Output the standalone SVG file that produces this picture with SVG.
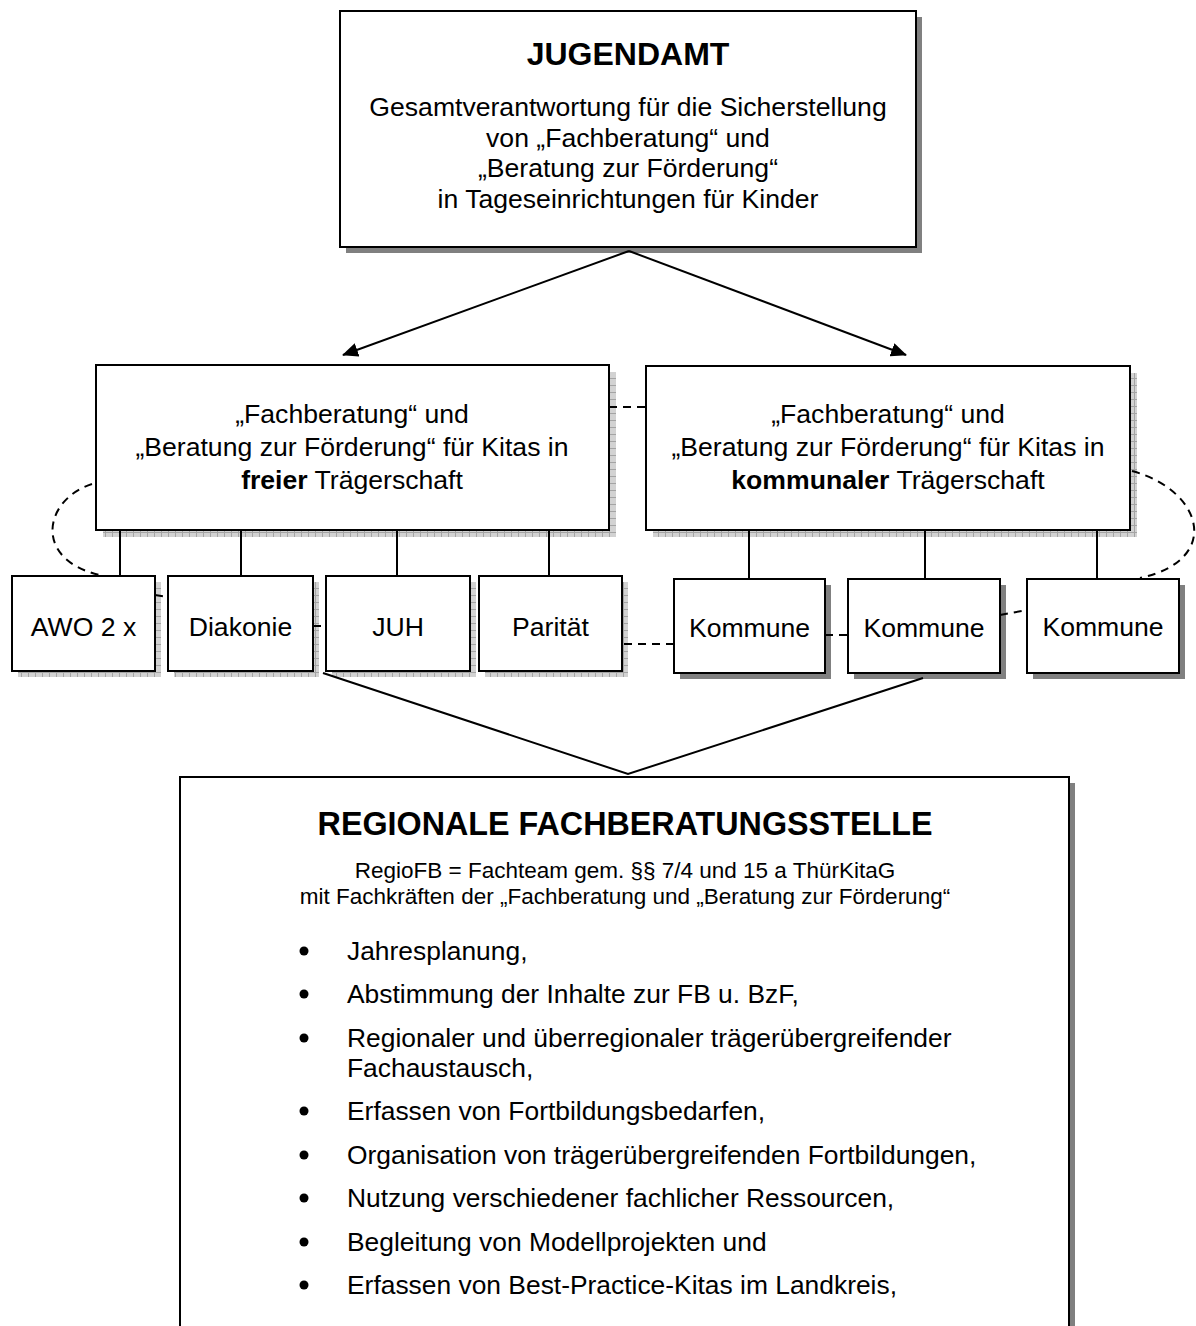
<svg xmlns="http://www.w3.org/2000/svg" width="1196" height="1326" viewBox="0 0 1196 1326">
<style>
.box{fill:#fff;stroke:#000;stroke-width:2}
.sh{fill:#808080}
.chk{fill:url(#chk)}
.t{font-family:"Liberation Sans",Arial,sans-serif;fill:#000;text-anchor:middle}
.tl{font-family:"Liberation Sans",Arial,sans-serif;fill:#000;font-size:26.4px}
.b{font-weight:bold}
.ln{fill:none;stroke:#000;stroke-width:2}
.ds{fill:none;stroke:#000;stroke-width:2;stroke-dasharray:8 6}
</style>
<defs>
<pattern id="chk" width="7" height="7" patternUnits="userSpaceOnUse">
<rect width="7" height="7" fill="#d2d2d2"/>
<path d="M0 0.5H7M0.5 0V7" stroke="#a4a4a4" stroke-width="1"/>
</pattern>
<marker id="ah" markerWidth="16" markerHeight="14" refX="15" refY="7" orient="auto" markerUnits="userSpaceOnUse">
<path d="M0 0L16 7L0 14Z" fill="#000"/>
</marker>
</defs>

<g id="jugendamt">
<rect class="sh" x="346" y="17" width="576" height="236"/>
<rect class="box" x="340" y="11" width="576" height="236"/>
<text class="t b" x="628" y="65" font-size="32">JUGENDAMT</text>
<text class="t" x="628" y="116" font-size="26.6">Gesamtverantwortung für die Sicherstellung</text>
<text class="t" x="628" y="147" font-size="26.6">von „Fachberatung“ und</text>
<text class="t" x="628" y="177" font-size="26.6">„Beratung zur Förderung“</text>
<text class="t" x="628" y="208" font-size="26.6">in Tageseinrichtungen für Kinder</text>
</g>

<g id="freie">
<rect class="chk" x="103" y="372" width="513" height="165"/>
<rect class="box" x="96" y="365" width="513" height="165"/>
<text class="t" x="352" y="423" font-size="26.6">„Fachberatung“ und</text>
<text class="t" x="352" y="456" font-size="26.6">„Beratung zur Förderung“ für Kitas in</text>
<text class="t" x="352" y="489" font-size="26.6"><tspan class="b">freier</tspan> Trägerschaft</text>
</g>

<g id="kommunal">
<rect class="chk" x="653" y="373" width="484" height="164"/>
<rect class="box" x="646" y="366" width="484" height="164"/>
<text class="t" x="888" y="423" font-size="26.6">„Fachberatung“ und</text>
<text class="t" x="888" y="456" font-size="26.6">„Beratung zur Förderung“ für Kitas in</text>
<text class="t" x="888" y="489" font-size="26.6"><tspan class="b">kommunaler</tspan> Trägerschaft</text>
</g>

<g id="awo">
<rect class="chk" x="18" y="582" width="143" height="95"/>
<rect class="box" x="12" y="576" width="143" height="95"/>
<text class="t" x="83.5" y="636" font-size="26.6">AWO 2 x</text>
</g>
<g id="diakonie">
<rect class="chk" x="174" y="582" width="145" height="95"/>
<rect class="box" x="168" y="576" width="145" height="95"/>
<text class="t" x="240.5" y="636" font-size="26.6">Diakonie</text>
</g>
<g id="juh">
<rect class="chk" x="332" y="582" width="144" height="95"/>
<rect class="box" x="326" y="576" width="144" height="95"/>
<text class="t" x="398" y="636" font-size="26.6">JUH</text>
</g>
<g id="paritaet">
<rect class="chk" x="485" y="582" width="143" height="95"/>
<rect class="box" x="479" y="576" width="143" height="95"/>
<text class="t" x="550.5" y="636" font-size="26.6">Parität</text>
</g>
<g id="kommune1">
<rect class="sh" x="680" y="585" width="151" height="94"/>
<rect class="box" x="674" y="579" width="151" height="94"/>
<text class="t" x="749.5" y="637" font-size="26.6">Kommune</text>
</g>
<g id="kommune2">
<rect class="sh" x="854" y="585" width="152" height="94"/>
<rect class="box" x="848" y="579" width="152" height="94"/>
<text class="t" x="924" y="637" font-size="26.6">Kommune</text>
</g>
<g id="kommune3">
<rect class="sh" x="1033" y="585" width="152" height="94"/>
<rect class="box" x="1027" y="579" width="152" height="94"/>
<text class="t" x="1103" y="636" font-size="26.6">Kommune</text>
</g>

<g id="regionale">
<rect class="sh" x="186" y="783" width="889" height="600"/>
<rect class="box" x="180" y="777" width="889" height="600"/>
<text class="t b" x="625" y="835" font-size="32.3">REGIONALE FACHBERATUNGSSTELLE</text>
<text class="t" x="625" y="878" font-size="22.5">RegioFB = Fachteam gem. §§ 7/4 und 15 a ThürKitaG</text>
<text class="t" x="625" y="904" font-size="22.5">mit Fachkräften der „Fachberatung und „Beratung zur Förderung“</text>
<g fill="#000">
<circle cx="304" cy="951" r="4.5"/>
<circle cx="304" cy="994" r="4.5"/>
<circle cx="304" cy="1038" r="4.5"/>
<circle cx="304" cy="1111" r="4.5"/>
<circle cx="304" cy="1155" r="4.5"/>
<circle cx="304" cy="1198" r="4.5"/>
<circle cx="304" cy="1242" r="4.5"/>
<circle cx="304" cy="1285" r="4.5"/>
</g>
<text class="tl" x="347" y="959.5">Jahresplanung,</text>
<text class="tl" x="347" y="1003">Abstimmung der Inhalte zur FB u. BzF,</text>
<text class="tl" x="347" y="1046.5">Regionaler und überregionaler trägerübergreifender</text>
<text class="tl" x="347" y="1076.5">Fachaustausch,</text>
<text class="tl" x="347" y="1120">Erfassen von Fortbildungsbedarfen,</text>
<text class="tl" x="347" y="1163.5">Organisation von trägerübergreifenden Fortbildungen,</text>
<text class="tl" x="347" y="1207">Nutzung verschiedener fachlicher Ressourcen,</text>
<text class="tl" x="347" y="1250.5">Begleitung von Modellprojekten und</text>
<text class="tl" x="347" y="1294">Erfassen von Best-Practice-Kitas im Landkreis,</text>
</g>

<g id="connectors">
<line class="ln" x1="629" y1="251" x2="343" y2="355" marker-end="url(#ah)"/>
<line class="ln" x1="629" y1="251" x2="906" y2="355" marker-end="url(#ah)"/>
<line class="ln" x1="120" y1="530" x2="120" y2="576"/>
<line class="ln" x1="241" y1="530" x2="241" y2="576"/>
<line class="ln" x1="397" y1="530" x2="397" y2="576"/>
<line class="ln" x1="549" y1="530" x2="549" y2="576"/>
<line class="ln" x1="749" y1="530" x2="749" y2="579"/>
<line class="ln" x1="925" y1="530" x2="925" y2="579"/>
<line class="ln" x1="1097" y1="530" x2="1097" y2="579"/>
<polyline class="ln" points="323,673 628,774 923,678"/>
<line class="ds" x1="609" y1="407" x2="646" y2="407"/>
<path class="ds" d="M92 484C43 500 33 560 100 575"/>
<path class="ds" d="M1132 471C1203 490 1223 560 1140 578"/>
<line class="ds" x1="155" y1="595" x2="168" y2="597"/>
<line class="ds" x1="313" y1="626" x2="326" y2="626"/>
<line class="ds" x1="624" y1="644" x2="673" y2="644"/>
<line class="ds" x1="825" y1="635" x2="848" y2="635"/>
<line class="ds" x1="1000" y1="615" x2="1027" y2="610"/>
</g>
</svg>
